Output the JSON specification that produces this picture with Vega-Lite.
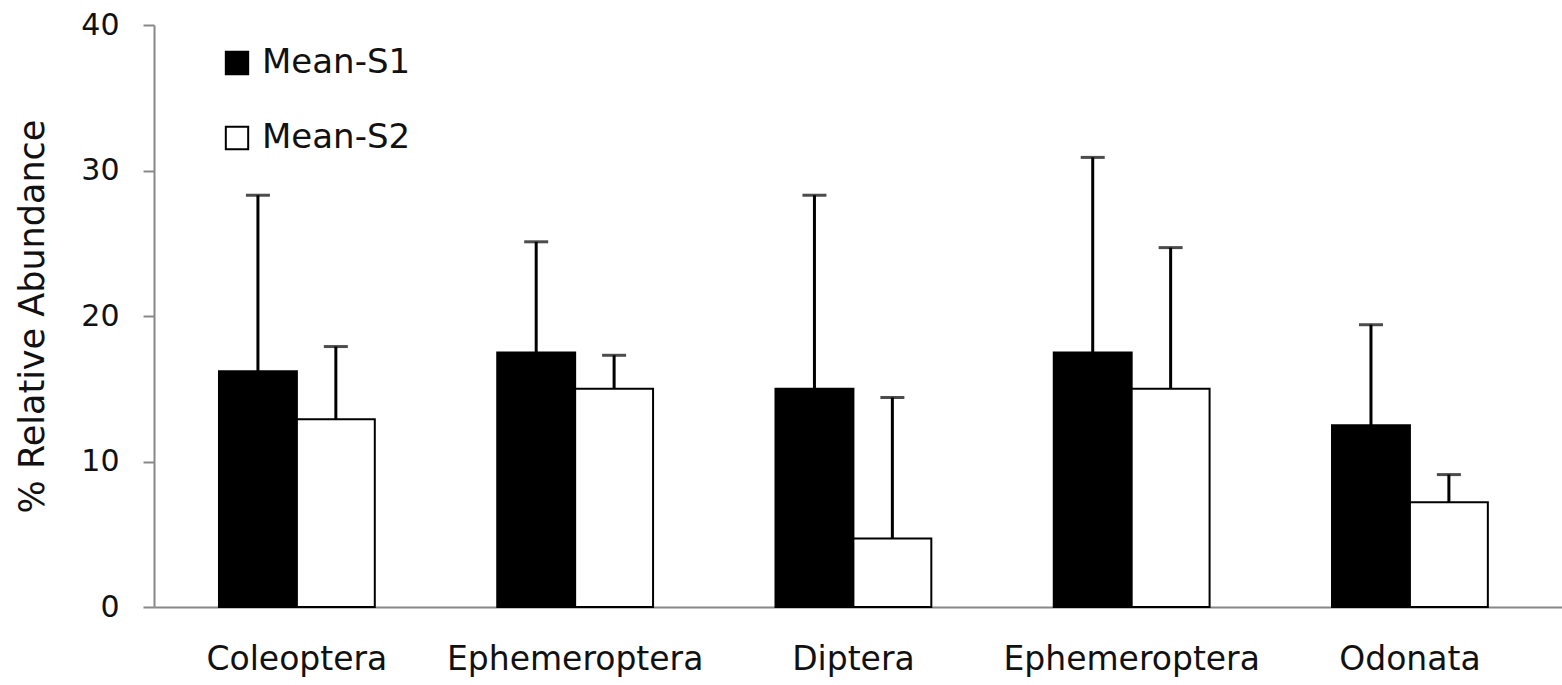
{
  "$schema": "https://vega.github.io/schema/vega-lite/v6.json",
  "width": 1408,
  "height": 582,
  "autosize": {"type": "none"},
  "padding": {"left": 154, "top": 25, "right": 0, "bottom": 78},
  "background": "white",
  "config": {
    "view": {"stroke": null},
    "font": "DejaVu Sans"
  },
  "data": {
    "values": [
      {"taxon": "Coleoptera", "series": "Mean-S1", "mean": 16.2, "upper": 28.3},
      {"taxon": "Coleoptera", "series": "Mean-S2", "mean": 12.9, "upper": 17.9},
      {"taxon": "Ephemeroptera", "series": "Mean-S1", "mean": 17.5, "upper": 25.1},
      {"taxon": "Ephemeroptera", "series": "Mean-S2", "mean": 15.0, "upper": 17.3},
      {"taxon": "Diptera", "series": "Mean-S1", "mean": 15.0, "upper": 28.3},
      {"taxon": "Diptera", "series": "Mean-S2", "mean": 4.7, "upper": 14.4},
      {"taxon": "Ephemeroptera ", "series": "Mean-S1", "mean": 17.5, "upper": 30.9},
      {"taxon": "Ephemeroptera ", "series": "Mean-S2", "mean": 15.0, "upper": 24.7},
      {"taxon": "Odonata", "series": "Mean-S1", "mean": 12.5, "upper": 19.4},
      {"taxon": "Odonata", "series": "Mean-S2", "mean": 7.2, "upper": 9.1}
    ]
  },
  "encoding": {
    "x": {
      "field": "taxon",
      "type": "nominal",
      "sort": null,
      "scale": {"paddingInner": 0.44, "paddingOuter": 0.25, "align": 0.467},
      "axis": {
        "title": null,
        "labelAngle": 0,
        "labelFontSize": 33,
        "labelLimit": 0,
        "labelColor": "#111",
        "labelPadding": 36,
        "ticks": false,
        "domainColor": "#888",
        "domainWidth": 2
      }
    },
    "xOffset": {
      "field": "series",
      "type": "nominal",
      "sort": ["Mean-S1", "Mean-S2"],
      "scale": {"paddingInner": 0, "paddingOuter": 0}
    }
  },
  "layer": [
    {
      "mark": {"type": "bar", "stroke": "black", "strokeWidth": 2},
      "encoding": {
        "y": {
          "field": "mean",
          "type": "quantitative",
          "scale": {"domain": [0, 40], "nice": false},
          "axis": {
            "title": "% Relative  Abundance",
            "titleFontSize": 35,
            "titleFontWeight": "normal",
            "titleColor": "#111",
            "titlePadding": 30,
            "values": [0, 10, 20, 30, 40],
            "grid": false,
            "labelFontSize": 30,
            "labelColor": "#111",
            "labelPadding": 24,
            "tickSize": 11,
            "tickColor": "#888",
            "tickWidth": 2,
            "domainColor": "#888",
            "domainWidth": 2
          }
        },
        "fill": {
          "field": "series",
          "type": "nominal",
          "scale": {"domain": ["Mean-S1", "Mean-S2"], "range": ["black", "white"]},
          "legend": {
            "title": null,
            "orient": "none",
            "legendX": 66,
            "legendY": 21,
            "symbolType": "square",
            "symbolSize": 500,
            "symbolStrokeColor": "black",
            "symbolStrokeWidth": 2,
            "labelFontSize": 34,
            "labelColor": "#111",
            "labelOffset": 8,
            "rowPadding": 41
          }
        }
      }
    },
    {
      "mark": {"type": "rule", "color": "black", "strokeWidth": 3},
      "encoding": {
        "y": {"field": "mean", "type": "quantitative"},
        "y2": {"field": "upper"}
      }
    },
    {
      "mark": {"type": "tick", "color": "black", "thickness": 3, "size": 24},
      "encoding": {
        "y": {"field": "upper", "type": "quantitative"}
      }
    }
  ]
}
